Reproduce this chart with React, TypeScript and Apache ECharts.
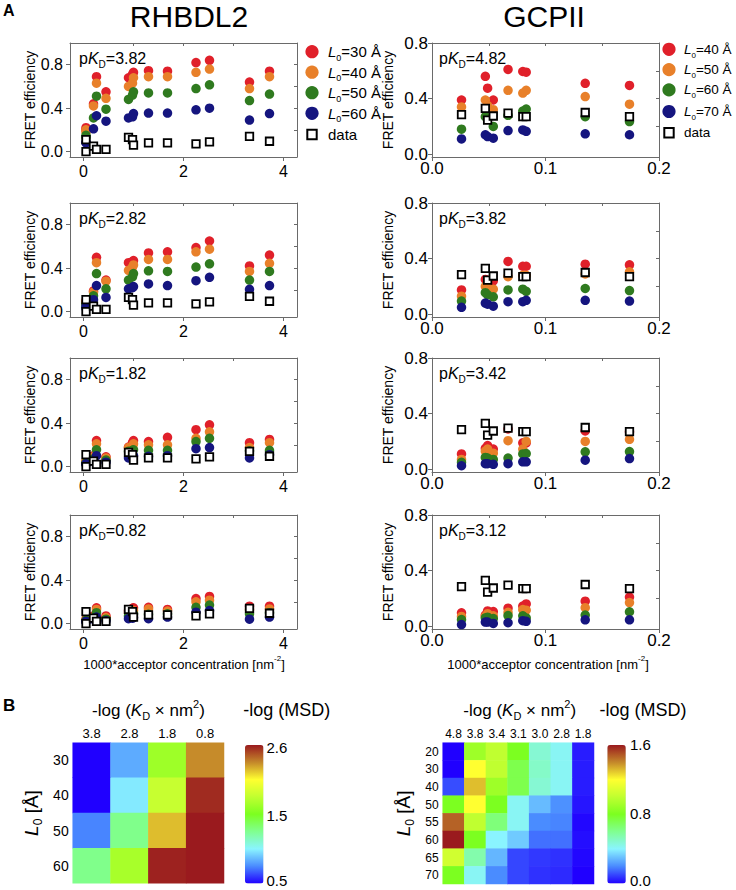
import React, { useEffect, useRef } from 'react';
import * as echarts from 'echarts';

const FF = '"Liberation Sans", Arial, Helvetica, sans-serif';

// ---------- Panel A data ----------
// RHBDL2: 1000*acceptor concentration [nm^-2]
const rhbdl2Conc = [0.05, 0.05, 0.2, 0.26, 0.45, 0.9, 0.98, 1.0, 1.3, 1.68, 2.25, 2.52, 3.32, 3.72];
const rhbdl2Measured = [0.11, 0.0, 0.05, 0.02, 0.02, 0.13, 0.11, 0.06, 0.08, 0.08, 0.07, 0.09, 0.14, 0.095];
const rhbdl2L0 = ['30', '40', '50', '60'];
// simulated FRET for L0 = 30, 40, 50, 60 Å
const rhbdl2Pkd382 = [
  [0.22, 0.2, 0.44, 0.69, 0.55, 0.68, 0.71, 0.73, 0.745, 0.74, 0.82, 0.84, 0.64, 0.74],
  [0.2, 0.18, 0.42, 0.63, 0.49, 0.6, 0.63, 0.68, 0.69, 0.69, 0.73, 0.76, 0.58, 0.69],
  [0.15, 0.13, 0.31, 0.51, 0.39, 0.48, 0.52, 0.55, 0.54, 0.54, 0.58, 0.615, 0.47, 0.53],
  [0.09, 0.08, 0.21, 0.33, 0.28, 0.31, 0.32, 0.35, 0.355, 0.355, 0.385, 0.4, 0.29, 0.35],
];
const rhbdl2Pkd282 = [
  [0.1, 0.08, 0.19, 0.5, 0.29, 0.45, 0.46, 0.47, 0.54, 0.55, 0.59, 0.65, 0.42, 0.52],
  [0.09, 0.07, 0.18, 0.45, 0.28, 0.38, 0.41, 0.43, 0.48, 0.48, 0.55, 0.575, 0.37, 0.445],
  [0.07, 0.05, 0.145, 0.35, 0.21, 0.29, 0.32, 0.35, 0.375, 0.37, 0.41, 0.44, 0.29, 0.37],
  [0.05, 0.03, 0.11, 0.24, 0.13, 0.21, 0.22, 0.23, 0.255, 0.24, 0.285, 0.315, 0.205, 0.24],
];
const rhbdl2Pkd182 = [
  [0.05, 0.04, 0.1, 0.24, 0.09, 0.18, 0.22, 0.24, 0.23, 0.27, 0.34, 0.385, 0.22, 0.25],
  [0.045, 0.035, 0.09, 0.21, 0.08, 0.175, 0.19, 0.21, 0.2, 0.2, 0.26, 0.32, 0.175, 0.22],
  [0.035, 0.03, 0.07, 0.155, 0.06, 0.14, 0.15, 0.155, 0.15, 0.15, 0.23, 0.26, 0.145, 0.15],
  [0.025, 0.02, 0.05, 0.1, 0.04, 0.08, 0.09, 0.1, 0.095, 0.1, 0.165, 0.175, 0.08, 0.11],
];
const rhbdl2Pkd082 = [
  [0.04, 0.03, 0.07, 0.145, 0.07, 0.12, 0.14, 0.145, 0.15, 0.13, 0.23, 0.25, 0.16, 0.16],
  [0.035, 0.03, 0.06, 0.13, 0.055, 0.1, 0.12, 0.12, 0.135, 0.115, 0.2, 0.215, 0.13, 0.135],
  [0.03, 0.02, 0.05, 0.1, 0.04, 0.07, 0.085, 0.09, 0.085, 0.09, 0.15, 0.17, 0.09, 0.1],
  [0.02, 0.015, 0.04, 0.06, 0.025, 0.045, 0.05, 0.055, 0.045, 0.06, 0.105, 0.12, 0.04, 0.06],
];

// GCPII
const gcpiiConc = [0.026, 0.047, 0.049, 0.054, 0.067, 0.08, 0.083, 0.135, 0.174];
const gcpiiMeasured = [0.285, 0.33, 0.245, 0.275, 0.295, 0.27, 0.27, 0.3, 0.27];
const gcpiiL0 = ['40', '50', '60', '70'];
const gcpiiPkd482 = [
  [0.39, 0.56, 0.475, 0.39, 0.61, 0.595, 0.59, 0.51, 0.495],
  [0.34, 0.39, 0.35, 0.32, 0.46, 0.44, 0.46, 0.415, 0.36],
  [0.18, 0.27, 0.26, 0.2, 0.28, 0.31, 0.325, 0.27, 0.235],
  [0.11, 0.14, 0.127, 0.115, 0.17, 0.175, 0.165, 0.147, 0.14],
];
const gcpiiPkd382 = [
  [0.175, 0.25, 0.235, 0.24, 0.38, 0.345, 0.345, 0.36, 0.355],
  [0.13, 0.2, 0.19, 0.18, 0.27, 0.28, 0.28, 0.29, 0.305],
  [0.095, 0.155, 0.14, 0.125, 0.175, 0.18, 0.165, 0.185, 0.17],
  [0.05, 0.08, 0.072, 0.058, 0.09, 0.09, 0.1, 0.1, 0.095],
];
const gcpiiPkd342 = [
  [0.11, 0.15, 0.17, 0.145, 0.29, 0.19, 0.19, 0.275, 0.27],
  [0.07, 0.13, 0.145, 0.115, 0.205, 0.145, 0.2, 0.2, 0.215],
  [0.05, 0.085, 0.08, 0.07, 0.08, 0.11, 0.113, 0.125, 0.127],
  [0.025, 0.04, 0.04, 0.035, 0.04, 0.053, 0.053, 0.065, 0.077],
];
const gcpiiPkd312 = [
  [0.096, 0.08, 0.11, 0.105, 0.13, 0.145, 0.16, 0.18, 0.21],
  [0.07, 0.07, 0.09, 0.075, 0.1, 0.12, 0.115, 0.133, 0.17],
  [0.048, 0.06, 0.065, 0.055, 0.077, 0.075, 0.06, 0.08, 0.104],
  [0.012, 0.03, 0.03, 0.02, 0.025, 0.04, 0.035, 0.046, 0.046],
];

// ---------- Panel B data ----------
const rhbdl2LogKd = ['3.8', '2.8', '1.8', '0.8'];
const rhbdl2L0Rows = ['30', '40', '50', '60'];
const rhbdl2NegLogMsd = [
  [0.5, 0.84, 1.68, 2.33],
  [0.5, 1.0, 1.84, 2.56],
  [0.75, 1.3, 2.22, 2.6],
  [1.3, 1.72, 2.58, 2.6],
];
const gcpiiLogKd = ['4.8', '3.8', '3.4', '3.1', '3.0', '2.8', '1.8'];
const gcpiiL0Rows = ['20', '30', '40', '50', '55', '60', '65', '70'];
const gcpiiNegLogMsd = [
  [0.0, 0.9, 1.0, 0.8, 0.48, 0.42, 0.04],
  [0.0, 1.2, 1.0, 0.72, 0.5, 0.42, 0.04],
  [0.11, 1.31, 0.9, 0.72, 0.48, 0.42, 0.04],
  [0.8, 1.2, 0.8, 0.42, 0.29, 0.21, 0.03],
  [1.47, 1.0, 0.64, 0.42, 0.2, 0.19, 0.01],
  [1.6, 0.8, 0.4, 0.32, 0.16, 0.16, 0.02],
  [1.05, 0.55, 0.28, 0.1, 0.08, 0.07, 0.01],
  [0.8, 0.42, 0.2, 0.1, 0.07, 0.06, 0.0],
];

const FIT_COLORS = ['#e0202a', '#e8802a', '#2f7a1f', '#15157f'];
const JET = ['#2000ff', '#4a8cff', '#8af4ff', '#80ff90', '#7cff20', '#c0ff30', '#ffff30', '#c4882a', '#9a1a1e'];

function richSet(size: number) {
  const sub = Math.round(size * 0.62);
  const base = { fontFamily: FF, fill: '#000', color: '#000' };
  return {
    n: { ...base, fontSize: size, lineHeight: size + 6 },
    i: { ...base, fontSize: size, fontStyle: 'italic', lineHeight: size + 6 },
    s: { ...base, fontSize: sub, lineHeight: sub, verticalAlign: 'bottom' },
    p: { ...base, fontSize: sub, lineHeight: sub, verticalAlign: 'top' },
  };
}

function txt(x: number, y: number, text: string, size: number, align = 'left', vAlign = 'middle', extra: any = {}) {
  return {
    type: 'text',
    x,
    y,
    silent: true,
    style: {
      text,
      fontSize: size,
      fontFamily: FF,
      fill: '#000',
      align,
      verticalAlign: vAlign,
      textAlign: align,
      textVerticalAlign: vAlign,
      rich: richSet(size),
      ...extra,
    },
  };
}

function buildOption() {
  const grids: any[] = [];
  const xAxes: any[] = [];
  const yAxes: any[] = [];
  const series: any[] = [];
  const graphics: any[] = [];

  const tops = [43, 203, 358, 515];
  const panels = [
    { col: 0, row: 0, fits: rhbdl2Pkd382, pkd: '3.82' },
    { col: 0, row: 1, fits: rhbdl2Pkd282, pkd: '2.82' },
    { col: 0, row: 2, fits: rhbdl2Pkd182, pkd: '1.82' },
    { col: 0, row: 3, fits: rhbdl2Pkd082, pkd: '0.82' },
    { col: 1, row: 0, fits: gcpiiPkd482, pkd: '4.82' },
    { col: 1, row: 1, fits: gcpiiPkd382, pkd: '3.82' },
    { col: 1, row: 2, fits: gcpiiPkd342, pkd: '3.42' },
    { col: 1, row: 3, fits: gcpiiPkd312, pkd: '3.12' },
  ];
  const lineStyle = { color: '#6a6a6a', width: 1 };

  panels.forEach((p, g) => {
    const left = p.col === 0 ? 70 : 432;
    const top = tops[p.row];
    grids.push({ left, top, width: 227, height: 114 });
    const isL = p.col === 0;
    const xMin = isL ? -0.27 : 0;
    const xMax = isL ? 4.27 : 0.2;
    const yMin = isL ? -0.05 : -0.02;
    const yMax = isL ? 1.0 : 0.8;
    const fs = isL ? 16 : 17;
    xAxes.push({
      type: 'value', gridIndex: g, position: 'bottom', min: xMin, max: xMax,
      axisLine: { show: true, onZero: false, lineStyle },
      axisTick: { show: true, inside: false, length: 4, customValues: isL ? [0, 2, 4] : [0, 0.1, 0.2], lineStyle },
      axisLabel: {
        show: true, customValues: isL ? [0, 2, 4] : [0, 0.1, 0.2],
        formatter: (v: number) => (isL ? String(Math.round(v)) : v.toFixed(1)),
        fontSize: fs, fontFamily: FF, color: '#000', margin: isL ? 6 : 3,
      },
      splitLine: { show: false },
    });
    xAxes.push({
      type: 'value', gridIndex: g, position: 'top', min: xMin, max: xMax,
      axisLine: { show: true, onZero: false, lineStyle },
      axisTick: { show: true, inside: true, length: 3, customValues: isL ? [1, 2, 3] : [0.05, 0.1, 0.15], lineStyle },
      axisLabel: { show: false },
      splitLine: { show: false },
    });
    yAxes.push({
      type: 'value', gridIndex: g, position: 'left', min: yMin, max: yMax,
      name: 'FRET efficiency', nameLocation: 'middle', nameGap: isL ? 33 : 37,
      nameTextStyle: { fontSize: 14, fontFamily: FF, color: '#000' },
      axisLine: { show: true, onZero: false, lineStyle },
      axisTick: { show: true, inside: false, length: 4, customValues: [0, 0.4, 0.8], lineStyle },
      axisLabel: {
        show: true, customValues: [0, 0.4, 0.8], formatter: (v: number) => v.toFixed(1),
        fontSize: fs, fontFamily: FF, color: '#000', margin: isL ? 7 : 4,
      },
      splitLine: { show: false },
    });
    yAxes.push({
      type: 'value', gridIndex: g, position: 'right', min: yMin, max: yMax,
      axisLine: { show: true, onZero: false, lineStyle },
      axisTick: { show: true, inside: true, length: 3, customValues: [0.2, 0.4, 0.6, 0.8], lineStyle },
      axisLabel: { show: false },
      splitLine: { show: false },
    });

    const conc = isL ? rhbdl2Conc : gcpiiConc;
    const meas = isL ? rhbdl2Measured : gcpiiMeasured;
    const l0 = isL ? rhbdl2L0 : gcpiiL0;
    p.fits.forEach((vals, k) => {
      series.push({
        type: 'scatter', name: `L0=${l0[k]} Å`, xAxisIndex: 2 * g, yAxisIndex: 2 * g,
        symbol: 'circle', symbolSize: 9.5, z: 2 + k * 0.01,
        itemStyle: { color: FIT_COLORS[k], opacity: 1 },
        emphasis: { disabled: true },
        data: conc.map((c, i) => [c, vals[i]]),
      });
    });
    series.push({
      type: 'scatter', name: 'data', xAxisIndex: 2 * g, yAxisIndex: 2 * g,
      symbol: 'rect', symbolSize: 7.5, z: 3,
      itemStyle: { color: '#fff', borderColor: '#000', borderWidth: 1.8, opacity: 1 },
      emphasis: { disabled: true },
      data: conc.map((c, i) => [c, meas[i]]),
    });

    graphics.push(txt(isL ? 79 : 439, top + 4.5, `{n|p}{i|K}{s|D}{n|=${p.pkd}}`, 16, 'left', 'top'));
  });

  // legends (panel 1 of each column)
  const legends = [
    { cx: 312, tx: 328, ys: [51.7, 72.2, 92.7, 113.3, 134.5], l0: rhbdl2L0, fs: 15 },
    { cx: 669, tx: 684, ys: [49.3, 69.6, 89.9, 111.5, 132.7], l0: gcpiiL0, fs: 13.5 },
  ];
  legends.forEach((lg) => {
    lg.l0.forEach((v, k) => {
      graphics.push({ type: 'circle', silent: true, shape: { cx: lg.cx, cy: lg.ys[k], r: 6.6 }, style: { fill: FIT_COLORS[k] } });
      graphics.push(txt(lg.tx, lg.ys[k], `{i|L}{s|0}{n|=${v} Å}`, lg.fs, 'left', 'middle'));
    });
    graphics.push({ type: 'rect', silent: true, shape: { x: lg.cx - 4.7, y: lg.ys[4] - 4.7, width: 9.4, height: 9.4 }, style: { fill: '#fff', stroke: '#000', lineWidth: 2 } });
    graphics.push(txt(lg.tx, lg.ys[4], '{n|data}', lg.fs, 'left', 'middle'));
  });

  // headers
  graphics.push(txt(3, 2, 'A', 16, 'left', 'top', { fontWeight: 'bold', rich: undefined }));
  graphics.push(txt(3, 697, 'B', 17, 'left', 'top', { fontWeight: 'bold', rich: undefined }));
  graphics.push(txt(189, 16, 'RHBDL2', 30, 'center', 'middle', { rich: undefined }));
  graphics.push(txt(544, 16, 'GCPII', 30, 'center', 'middle', { rich: undefined }));
  graphics.push(txt(184, 664, '{n|1000*acceptor concentration [nm}{p|-2}{n|]}', 13, 'center', 'middle'));
  graphics.push(txt(548, 664, '{n|1000*acceptor concentration [nm}{p|-2}{n|]}', 13, 'center', 'middle'));

  // heatmaps
  const heat = [
    { left: 72.7, width: 151.3, height: 140.6, cols: rhbdl2LogKd, rows: rhbdl2L0Rows, vals: rhbdl2NegLogMsd, min: 0.5, max: 2.6, cbX: 245, cbLabX: 266.5, labels: [['2.6', 747], ['1.5', 815.7], ['0.5', 880.5]], colFs: 13, rowFs: 14, titleX: 148.5, msdX: 286.7, nameGap: 29 },
    { left: 442.7, width: 151.3, height: 141.3, cols: gcpiiLogKd, rows: gcpiiL0Rows, vals: gcpiiNegLogMsd, min: 0, max: 1.6, cbX: 607.3, cbLabX: 630, labels: [['1.6', 744.5], ['0.8', 813.3], ['0.0', 880.5]], colFs: 12, rowFs: 12, titleX: 519.7, msdX: 643, nameGap: 27 },
  ];
  const visualMaps: any[] = [];
  heat.forEach((h, j) => {
    const gi = 8 + j;
    grids.push({ left: h.left, top: 742.7, width: h.width, height: h.height });
    xAxes.push({
      type: 'category', gridIndex: gi, position: 'top', data: h.cols,
      axisLine: { show: false }, axisTick: { show: false }, splitLine: { show: false }, splitArea: { show: false },
      axisLabel: { interval: 0, hideOverlap: false, fontSize: h.colFs, fontFamily: FF, color: '#000', margin: 3 },
    });
    yAxes.push({
      type: 'category', gridIndex: gi, position: 'left', data: h.rows, inverse: true,
      axisLine: { show: false }, axisTick: { show: false }, splitLine: { show: false }, splitArea: { show: false },
      axisLabel: { interval: 0, fontSize: h.rowFs, fontFamily: FF, color: '#000', margin: 4 },
      name: '{i|L}{s|0}{n| [Å]}', nameLocation: 'middle', nameRotate: 90, nameGap: h.nameGap,
      nameTextStyle: { fontSize: 19, fontFamily: FF, color: '#000', rich: richSet(19) },
    });
    const data: number[][] = [];
    h.vals.forEach((row, yi) => row.forEach((v, xi) => data.push([xi, yi, v])));
    series.push({
      type: 'heatmap', xAxisIndex: 16 + j, yAxisIndex: 16 + j, data,
      itemStyle: { borderWidth: 0 }, emphasis: { disabled: true },
    });
    visualMaps.push({
      type: 'continuous', seriesIndex: series.length - 1, min: h.min, max: h.max,
      inRange: { color: JET }, left: h.cbX, top: 745, itemWidth: 18.5, itemHeight: 138.5,
      calculable: false, padding: 0, hoverLink: false, orient: 'vertical',
    });
    graphics.push(txt(h.titleX, 710, '{n|-log (}{i|K}{s|D}{n| × nm}{p|2}{n|)}', 17, 'center', 'middle'));
    graphics.push(txt(h.msdX, 710, '{n|-log (MSD)}', 18, 'center', 'middle'));
    h.labels.forEach(([t, y]) => graphics.push(txt(h.cbLabX, y as number, `{n|${t}}`, 15, 'left', 'middle')));
  });

  return {
    animation: false,
    backgroundColor: '#ffffff',
    textStyle: { fontFamily: FF },
    grid: grids,
    xAxis: xAxes,
    yAxis: yAxes,
    visualMap: visualMaps,
    series,
    graphic: graphics,
  };
}

export default function App() {
  const ref = useRef<HTMLDivElement>(null);
  useEffect(() => {
    const chart = echarts.init(ref.current as HTMLDivElement, null, { renderer: 'svg' });
    chart.setOption(buildOption() as any);
    return () => chart.dispose();
  }, []);
  return <div ref={ref} style={{ position: 'absolute', left: 0, top: 0, width: 736, height: 890, background: '#fff' }} />;
}
